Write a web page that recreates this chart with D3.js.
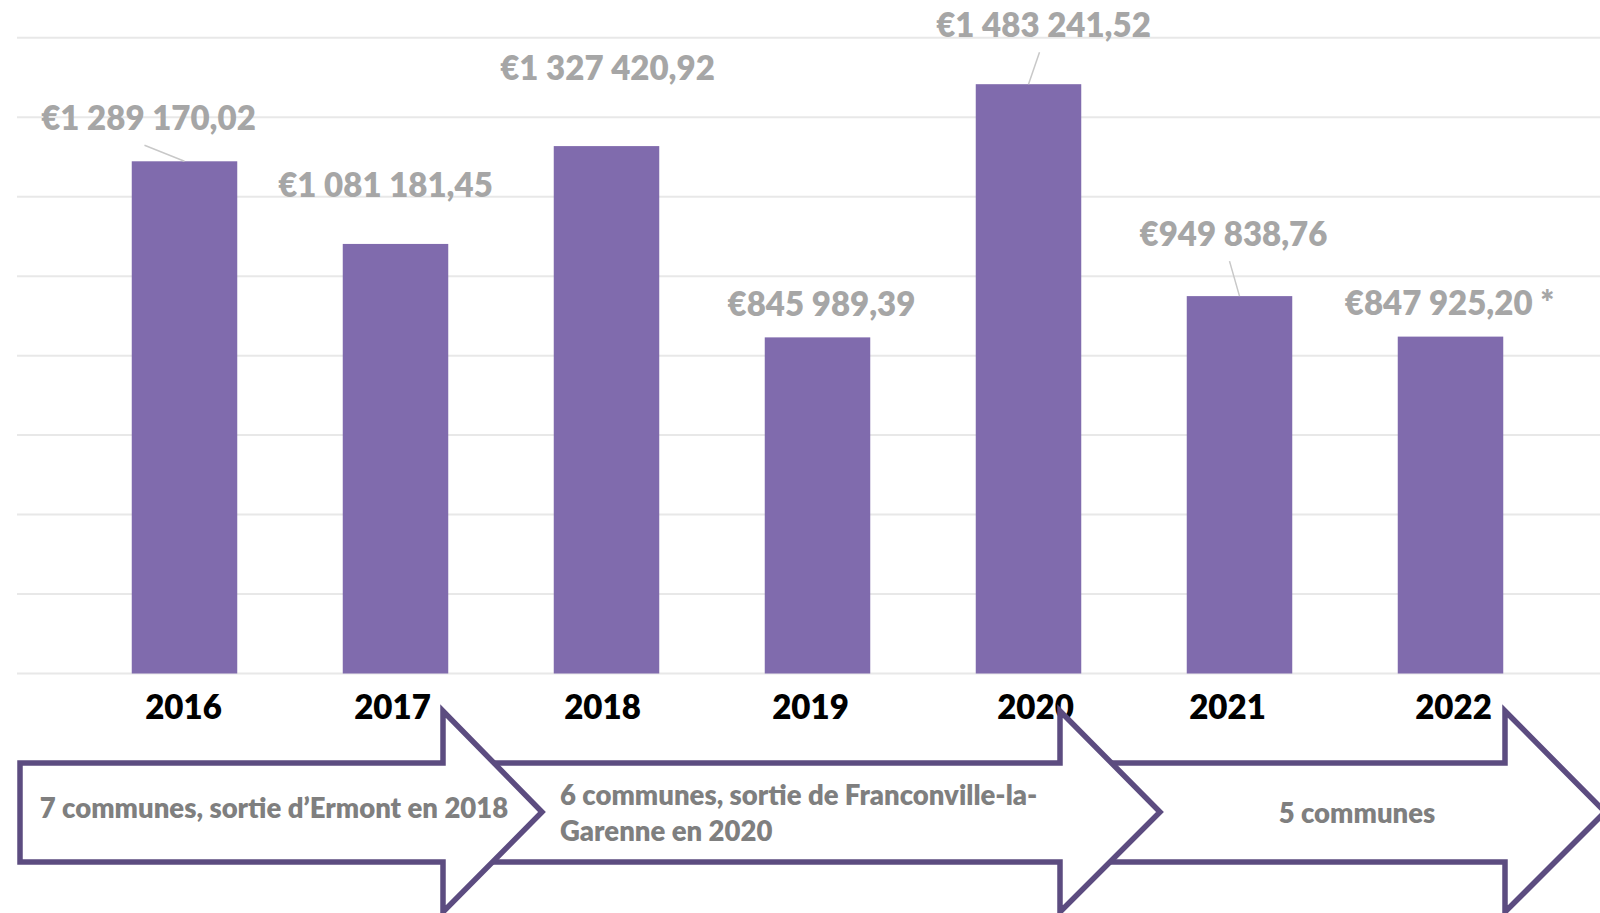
<!DOCTYPE html>
<html>
<head>
<meta charset="utf-8">
<title>Montants par année</title>
<style>
    body { margin: 0; background: #fff; }
    svg text { font-family: Lato, "Open Sans", sans-serif; font-weight: 800; }
    .grid line { stroke: #e8e8e8; stroke-width: 2px; }
    .bar { fill: #806bad; }
    .value { fill: #a6a6a6; font-size: 33px; }
    .year { fill: #000; font-size: 33px; }
    .leader { stroke: #c8c8c8; stroke-width: 1.5px; }
    .arrow { fill: #fff; stroke: #5c4c80; stroke-width: 5.5px; stroke-linejoin: miter; }
    .arrow-text { fill: #7f7f7f; font-size: 27.5px; }
</style>
<script src="https://d3js.org/d3.v7.min.js"></script>
</head>
<body>
<svg id="chart"></svg>
<script>
// data
const years = ["2016", "2017", "2018", "2019", "2020", "2021", "2022"];
const amounts = [1289170.02, 1081181.45, 1327420.92, 845989.39, 1483241.52, 949838.76, 847925.20];
const labelSuffix = ["", "", "", "", "", "", " *"];
const hasLeader = [true, false, false, false, true, true, false];
const gridTicks = [0, 200000, 400000, 600000, 800000, 1000000, 1200000, 1400000, 1600000];
const periodLabels = [
    ["7 communes, sortie d\u2019Ermont en 2018"],
    ["6 communes, sortie de Franconville-la-", "Garenne en 2020"],
    ["5 communes"]
];

// layout (label placement was done by hand in the original)
const width = 1600, height = 913;
const labelShift = [[-36, -43], [-10, -59], [1, -78], [4, -33], [15, -59], [-6, -62], [-1, -33]];
const yearShift = [-1, -3, -4, -7, 7, -12, 3];
const arrows = [
    {left: 20, neck: 443, tip: 542, anchor: "middle", tx: 274, ty: [808]},
    {left: 450, neck: 1060, tip: 1160, anchor: "start", tx: 560, ty: [795, 831]},
    {left: 1070, neck: 1505, tip: 1605, anchor: "middle", tx: 1357, ty: [813]}
];
const arrowY = {headTop: 711, bodyTop: 763, mid: 812, bodyBottom: 862, headBottom: 912};

const svg = d3.select("#chart")
    .attr("width", width)
    .attr("height", height);

const x = d3.scaleBand()
    .domain(years)
    .range([79, 1556])
    .paddingInner(0.5)
    .paddingOuter(0.25);

const y = d3.scaleLinear()
    .domain([0, 1600000])
    .range([673.5, 37.8]);

const fmt = d3.formatLocale({
    decimal: ",", thousands: " ", grouping: [3], currency: ["\u20ac", ""]
}).format("$,.2f");

// gridlines
svg.append("g").attr("class", "grid")
    .selectAll("line")
    .data(gridTicks)
    .join("line")
    .attr("x1", 17).attr("x2", width)
    .attr("y1", d => y(d)).attr("y2", d => y(d));

// bars
svg.append("g")
    .selectAll("rect")
    .data(amounts)
    .join("rect")
    .attr("class", "bar")
    .attr("x", (d, i) => x(years[i]))
    .attr("y", d => y(d))
    .attr("width", x.bandwidth())
    .attr("height", d => y(0) - y(d));

const cx = i => x(years[i]) + x.bandwidth() / 2;

// leader lines
svg.append("g")
    .selectAll("line")
    .data(amounts.map((d, i) => i).filter(i => hasLeader[i]))
    .join("line")
    .attr("class", "leader")
    .attr("x1", i => cx(i) + labelShift[i][0] - 4)
    .attr("y1", i => y(amounts[i]) + labelShift[i][1] + 27)
    .attr("x2", i => cx(i))
    .attr("y2", i => y(amounts[i]));

// value labels
svg.append("g")
    .selectAll("text")
    .data(amounts)
    .join("text")
    .attr("class", "value")
    .attr("text-anchor", "middle")
    .attr("x", (d, i) => cx(i) + labelShift[i][0])
    .attr("y", (d, i) => y(d) + labelShift[i][1])
    .attr("dy", "0.36em")
    .text((d, i) => fmt(d) + labelSuffix[i]);

// year labels
svg.append("g")
    .selectAll("text")
    .data(years)
    .join("text")
    .attr("class", "year")
    .attr("text-anchor", "middle")
    .attr("x", (d, i) => cx(i) + yearShift[i])
    .attr("y", y(0) + 34)
    .attr("dy", "0.36em")
    .text(d => d);

// period arrows, last one first so earlier arrows sit on top
const arrowPath = a => {
    const p = d3.path();
    p.moveTo(a.left, arrowY.bodyTop);
    p.lineTo(a.neck, arrowY.bodyTop);
    p.lineTo(a.neck, arrowY.headTop);
    p.lineTo(a.tip, arrowY.mid);
    p.lineTo(a.neck, arrowY.headBottom);
    p.lineTo(a.neck, arrowY.bodyBottom);
    p.lineTo(a.left, arrowY.bodyBottom);
    p.closePath();
    return p.toString();
};

svg.append("g")
    .selectAll("path")
    .data(arrows.slice().reverse())
    .join("path")
    .attr("class", "arrow")
    .attr("d", arrowPath);

arrows.forEach((a, i) => {
    const t = svg.append("text")
        .attr("class", "arrow-text")
        .attr("text-anchor", a.anchor);
    periodLabels[i].forEach((line, j) => {
        t.append("tspan")
            .attr("x", a.tx)
            .attr("y", a.ty[j])
            .attr("dy", "0.36em")
            .text(line);
    });
});
</script>
</body>
</html>
